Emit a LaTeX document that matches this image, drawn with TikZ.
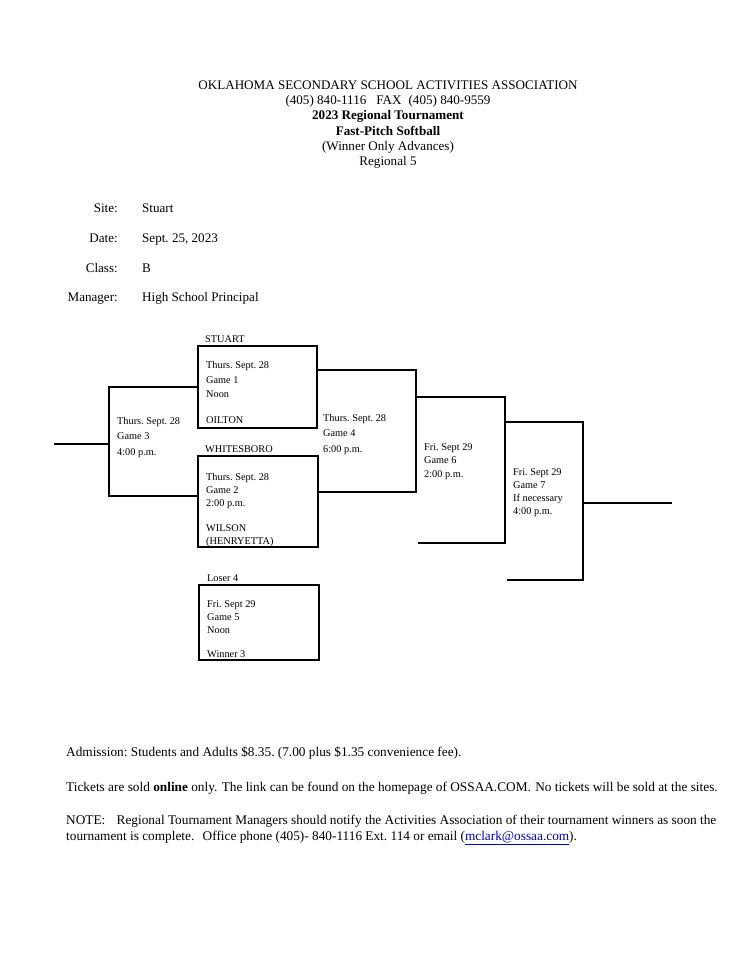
\documentclass[tikz,border=0pt]{standalone}
\usepackage{fontspec}
\setmainfont{Liberation Serif}
\usetikzlibrary{positioning, calc}
\frenchspacing

\begin{document}
\begin{tikzpicture}[x=1pt, y=-1pt,
    gamebox/.style={rectangle, draw, line width=1.8pt, inner sep=0pt, anchor=north west},
    bracket/.style={draw, line width=1.8pt},
    gametext/.style={anchor=north west, align=left, inner sep=0pt, font=\fontsize{10.3}{#1}\selectfont},
    gametext/.default=14,
    team/.style={anchor=base west, inner sep=0pt, font=\fontsize{10.3}{12}\selectfont},
    body/.style={inner sep=0pt, font=\fontsize{13.1}{15.3}\selectfont},
    footer/.style={anchor=base west, inner sep=0pt, font=\fontsize{13.3}{16}\selectfont}
]
    \useasboundingbox[fill=white] (0,0) rectangle (750,975);

    \node [body, align=center, anchor=north] (title) at (388,80.5) {OKLAHOMA SECONDARY SCHOOL ACTIVITIES ASSOCIATION\\
        (405) 840-1116\hspace{10pt}FAX\hspace{7pt}(405) 840-9559\\
        \textbf{2023 Regional Tournament}\\
        \textbf{Fast-Pitch Softball}\\
        (Winner Only Advances)\\
        Regional 5};

    \node [body, anchor=base east] (sitelbl) at (118,212.5) {Site:};
    \node [body, anchor=base west] (site) at (142,212.5) {Stuart};
    \node [body, anchor=base east] (datelbl) at (118,242.5) {Date:};
    \node [body, anchor=base west] (date) at (142,242.5) {Sept. 25, 2023};
    \node [body, anchor=base east] (classlbl) at (118,272.5) {Class:};
    \node [body, anchor=base west] (class) at (142,272.5) {B};
    \node [body, anchor=base east] (mgrlbl) at (118,301.5) {Manager:};
    \node [body, anchor=base west] (mgr) at (142,301.5) {High School Principal};

    \node [gamebox, minimum width=119pt, minimum height=82pt] (g1box) at (197,345) {};
    \node [gamebox, minimum width=120pt, minimum height=91pt] (g2box) at (197,455) {};
    \node [gamebox, minimum width=120pt, minimum height=75pt] (g5box) at (198,584) {};

    \node [team] (stuart) at ([xshift=8pt, yshift=3pt]g1box.north west) {STUART};
    \node [team] (whitesboro) at ([xshift=8pt, yshift=3pt]g2box.north west) {WHITESBORO};
    \node [team] (loser4) at ([xshift=9pt, yshift=3pt]g5box.north west) {Loser 4};

    \node [gametext=14.5] (g1) at (206,361.5) {Thurs. Sept. 28\\ Game 1\\ Noon\\[11.5pt] OILTON};
    \node [gametext=13] (g2) at (206,473) {Thurs. Sept. 28\\ Game 2\\ 2:00 p.m.\\[12pt] WILSON\\ (HENRYETTA)};
    \node [gametext=13] (g5) at (207,600) {Fri. Sept 29\\ Game 5\\ Noon\\[11pt] Winner 3};
    \node [gametext=15.5] (g3) at (117,417) {Thurs. Sept. 28\\ Game 3\\ 4:00 p.m.};
    \node [gametext=15.5] (g4) at (323,414) {Thurs. Sept. 28\\ Game 4\\ 6:00 p.m.};
    \node [gametext=13.5] (g6) at (424,443) {Fri. Sept 29\\ Game 6\\ 2:00 p.m.};
    \node [gametext=13.3] (g7) at (513,468) {Fri. Sept 29\\ Game 7\\ If necessary\\ 4:00 p.m.};

    \coordinate (g3top) at (109,387);
    \coordinate (g3bot) at (109,496);
    \coordinate (g3out) at (54,444);
    \coordinate (g4top) at (416,370);
    \coordinate (g4bot) at (416,492);
    \coordinate (g6top) at (505,397);
    \coordinate (g6bot) at (505,543);
    \coordinate (g6in) at (418,543);
    \coordinate (g7top) at (583,422);
    \coordinate (g7bot) at (583,580);
    \coordinate (g7in) at (507,580);
    \coordinate (champ) at (672,503);

    \path [bracket] (g1box.west |- g3top) -- (g3top) -- (g3bot) -- (g2box.west |- g3bot);
    \path [bracket] (g3top |- g3out) -- (g3out);
    \path [bracket] (g1box.east |- g4top) -- (g4top) -- (g4bot) -- (g2box.east |- g4bot);
    \path [bracket] (g4top |- g6top) -- (g6top) -- (g6bot) -- (g6in);
    \path [bracket] (g6top |- g7top) -- (g7top) -- (g7bot) -- (g7in);
    \path [bracket] (g7top |- champ) -- (champ);

    \node [footer] (admission) at (66,756) {Admission: Students and Adults \$8.35. (7.00 plus \$1.35 convenience fee).};
    \node [footer] (tickets) at (66,791) {Tickets are sold \textbf{online} only.\hspace{1pt} The link can be found on the homepage of OSSAA.COM.\hspace{1pt} No tickets will be sold at the sites.};
    \node [footer] (note) at (66,824) {NOTE:\hspace{8pt} Regional Tournament Managers should notify the Activities Association of their tournament winners as soon the};
    \node [footer] (note2) at (66,840) {tournament is complete.\hspace{5pt} Office phone (405)- 840-1116 Ext. 114 or email (\textcolor{blue!75!black}{\underline{mclark@ossaa.com}}).};
\end{tikzpicture}
\end{document}
